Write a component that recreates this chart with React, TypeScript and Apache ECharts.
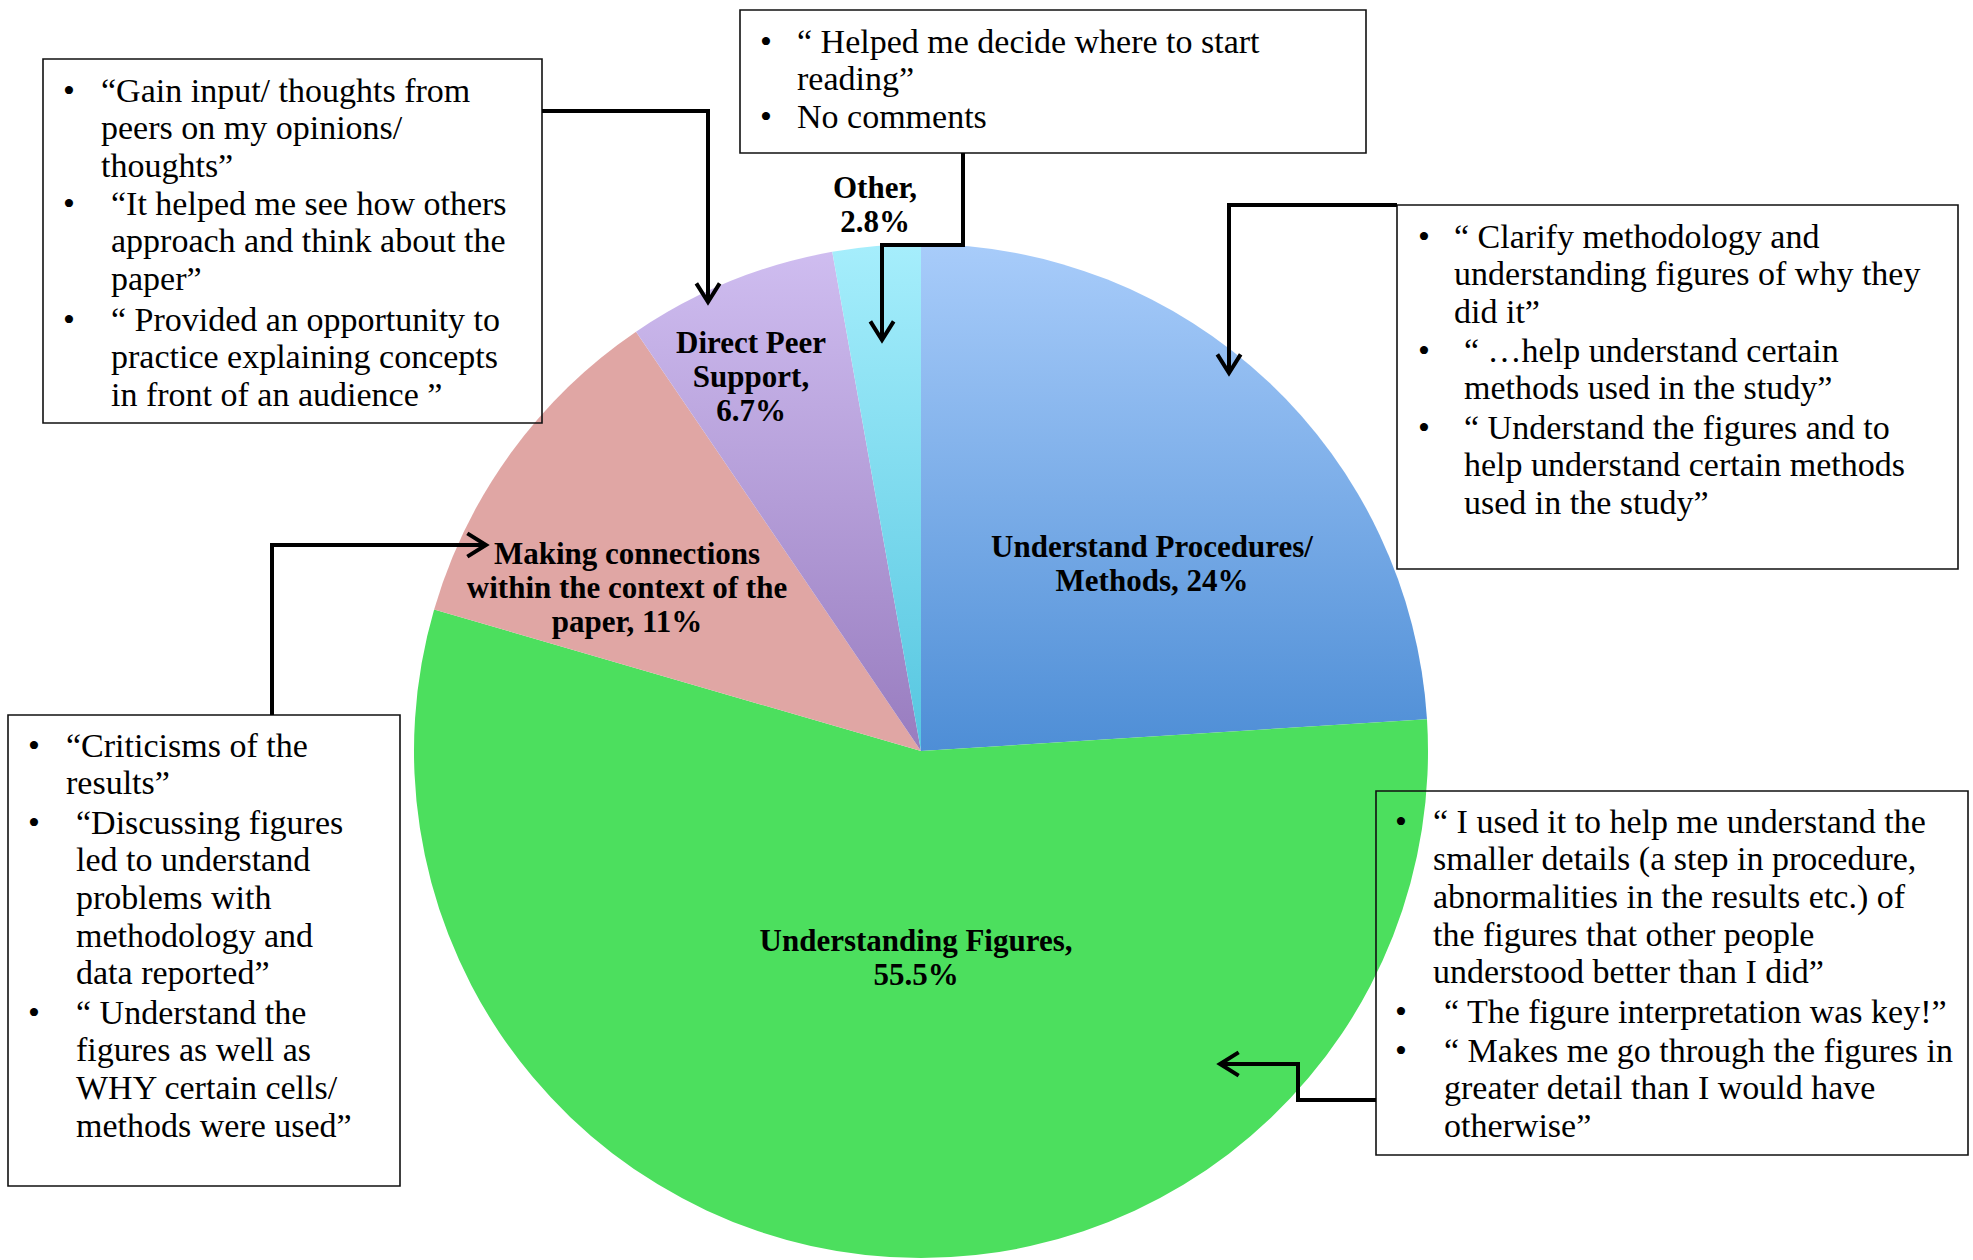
import React, { useEffect, useRef } from "react";
import * as echarts from "echarts";

// ---------- data ----------
const categories = [
  "Understand Procedures/ Methods",
  "Understanding Figures",
  "Making connections within the context of the paper",
  "Direct Peer Support",
  "Other",
];
const values = [24, 55.5, 11, 6.7, 2.8];
// label templates ({v} replaced by the value)
const labelTemplates = [
  "Understand Procedures/\nMethods, {v}%",
  "Understanding Figures,\n{v}%",
  "Making connections\nwithin the context of the\npaper, {v}%",
  "Direct Peer\nSupport,\n{v}%",
  "Other,\n{v}%",
];

const quotesPeer = [
  ["\u201CGain input/ thoughts from", "peers on my opinions/", "thoughts\u201D"],
  ["\u201CIt helped me see how others", "approach and think about the", "paper\u201D"],
  ["\u201C Provided an opportunity to", "practice explaining concepts", "in front of an audience \u201D"],
];
const quotesOther = [
  ["\u201C Helped me decide where to start", "reading\u201D"],
  ["No comments"],
];
const quotesMethods = [
  ["\u201C Clarify methodology and", "understanding figures of why they", "did it\u201D"],
  ["\u201C \u2026help understand certain", "methods used in the study\u201D"],
  ["\u201C Understand the figures and to", "help understand certain methods", "used in the study\u201D"],
];
const quotesConnections = [
  ["\u201CCriticisms of the", "results\u201D"],
  ["\u201CDiscussing figures", "led to understand", "problems with", "methodology and", "data reported\u201D"],
  ["\u201C Understand the", "figures as well as", "WHY certain cells/", "methods were used\u201D"],
];
const quotesFigures = [
  [
    "\u201C I used it to help me understand the",
    "smaller details (a step in procedure,",
    "abnormalities in the results etc.) of",
    "the figures that other people",
    "understood better than I did\u201D",
  ],
  ["\u201C The figure interpretation was key!\u201D"],
  ["\u201C Makes me go through the figures in", "greater detail than I would have", "otherwise\u201D"],
];

// ---------- layout ----------
const CENTER = [921, 751];
const RADIUS = 507;
const labelPos = [
  [1152, 563],
  [916, 957],
  [627, 587],
  [751, 376],
  [875, 204],
];
const LINE_H = 37.7;
const boxLayouts = [
  { quotes: quotesPeer, rect: [43, 59, 499, 364], bulletX: 69, textX: [101, 111, 111], firstY: [90, 203, 319] },
  { quotes: quotesOther, rect: [740, 10, 626, 143], bulletX: 766, textX: [797, 797], firstY: [41, 116] },
  { quotes: quotesMethods, rect: [1397, 205, 561, 364], bulletX: 1424, textX: [1454, 1464, 1464], firstY: [236, 350, 427] },
  { quotes: quotesConnections, rect: [8, 715, 392, 471], bulletX: 34, textX: [66, 76, 76], firstY: [745, 822, 1012] },
  { quotes: quotesFigures, rect: [1376, 791, 592, 364], bulletX: 1401, textX: [1433, 1444, 1444], firstY: [821, 1011, 1050] },
];
const connectors = [
  [[542, 111], [708, 111], [708, 302]],
  [[963, 153], [963, 245], [882, 245], [882, 340]],
  [[1397, 205], [1229, 205], [1229, 373]],
  [[272, 715], [272, 545], [486, 545]],
  [[1376, 1100], [1298, 1100], [1298, 1064], [1220, 1064]],
];

const grad = (a: string, b: string) => ({
  type: "linear",
  x: 0,
  y: 0,
  x2: 0,
  y2: 1,
  colorStops: [
    { offset: 0, color: a },
    { offset: 1, color: b },
  ],
});
const sliceColors: any[] = [
  grad("#a8ccfa", "#4e8ed6"),
  "#4cdf5e",
  "#e0a6a4",
  grad("#cfbdf0", "#987cbf"),
  grad("#a6eefc", "#55c6e0"),
];

const TEXT_FONT = "Liberation Serif";

function buildGraphics() {
  const els: any[] = [];
  boxLayouts.forEach((b) => {
    els.push({
      type: "rect",
      z: 100,
      shape: { x: b.rect[0], y: b.rect[1], width: b.rect[2], height: b.rect[3] },
      style: { fill: "none", stroke: "#111", lineWidth: 1.6 },
    });
    b.quotes.forEach((item, i) => {
      els.push({
        type: "text",
        z: 100,
        style: {
          text: "\u2022",
          x: b.bulletX,
          y: b.firstY[i],
          align: "center",
          verticalAlign: "middle",
          fontFamily: TEXT_FONT,
          fontSize: 34,
          fill: "#000",
        },
      });
      item.forEach((line, j) => {
        els.push({
          type: "text",
          z: 100,
          style: {
            text: line,
            x: b.textX[i],
            y: b.firstY[i] + j * LINE_H,
            align: "left",
            verticalAlign: "middle",
            fontFamily: TEXT_FONT,
            fontSize: 34,
            fill: "#000",
          },
        });
      });
    });
  });
  connectors.forEach((pts) => {
    els.push({
      type: "polyline",
      z: 101,
      shape: { points: pts },
      style: { fill: "none", stroke: "#000", lineWidth: 4 },
    });
    const tip = pts[pts.length - 1];
    const prev = pts[pts.length - 2];
    const dx = tip[0] - prev[0];
    const dy = tip[1] - prev[1];
    const len = Math.hypot(dx, dy);
    const ux = dx / len;
    const uy = dy / len;
    const L = 22;
    const ang = (32 * Math.PI) / 180;
    const rot = (a: number) => [
      tip[0] - L * (ux * Math.cos(a) - uy * Math.sin(a)),
      tip[1] - L * (ux * Math.sin(a) + uy * Math.cos(a)),
    ];
    els.push({
      type: "polyline",
      z: 101,
      shape: { points: [rot(ang), tip, rot(-ang)] },
      style: { fill: "none", stroke: "#000", lineWidth: 4 },
    });
  });
  return els;
}

export default function App() {
  const ref = useRef<HTMLDivElement>(null);
  useEffect(() => {
    document.body.style.margin = "0";
    const chart = echarts.init(ref.current!, undefined, { renderer: "svg" });
    chart.setOption({
      animation: false,
      backgroundColor: "#ffffff",
      series: [
        {
          type: "pie",
          center: CENTER,
          radius: RADIUS,
          startAngle: 90,
          clockwise: true,
          avoidLabelOverlap: false,
          data: categories.map((c, i) => ({
            name: c,
            value: values[i],
            itemStyle: { color: sliceColors[i] },
          })),
          label: {
            show: true,
            position: "inside",
            formatter: (p: any) => labelTemplates[p.dataIndex].replace("{v}", String(values[p.dataIndex])),
            fontFamily: TEXT_FONT,
            fontWeight: "bold",
            fontSize: 31,
            lineHeight: 34,
            color: "#000",
            align: "center",
          },
          labelLine: { show: false },
          labelLayout: (params: any) => {
            const p = labelPos[params.dataIndex];
            return { x: p[0], y: p[1], align: "center", verticalAlign: "middle" };
          },
          emphasis: { disabled: true },
        },
      ],
      graphic: buildGraphics(),
    });
    return () => chart.dispose();
  }, []);
  return <div ref={ref} style={{ width: 1973, height: 1260 }} />;
}
